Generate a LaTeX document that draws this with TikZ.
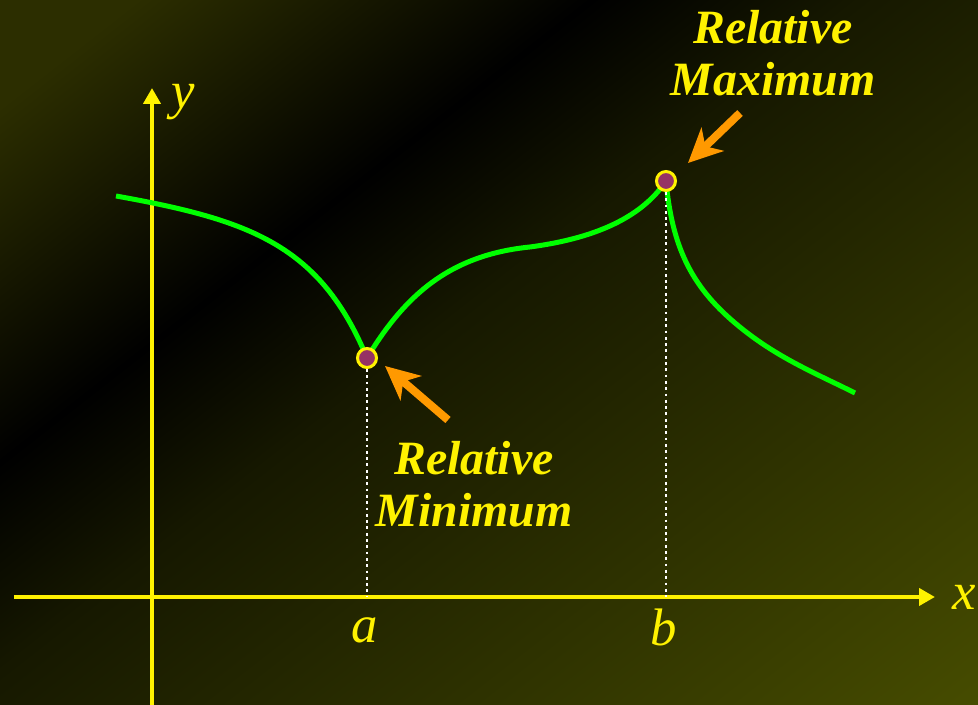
\documentclass[tikz,border=0pt]{standalone}
\usepackage{fontspec}
\setmainfont{Liberation Serif}
\usetikzlibrary{positioning,arrows.meta}

\definecolor{bgtl}{RGB}{44,46,0}
\definecolor{bgmid}{RGB}{22,24,0}
\definecolor{bgbr}{RGB}{70,76,0}
\definecolor{ptfill}{RGB}{150,50,100}
\definecolor{arrorange}{RGB}{255,153,0}
\pgfdeclarehorizontalshading{bgshade}{100bp}{color(0bp)=(bgtl); color(20bp)=(bgtl); color(37bp)=(black); color(47bp)=(bgmid); color(85bp)=(bgbr); color(100bp)=(bgbr)}

\begin{document}
\begin{tikzpicture}[
  axis/.style={draw=yellow, line width=0.045cm, -{Triangle[length=0.16cm,width=0.17cm]}},
  curve/.style={draw=green, line width=0.05cm},
  extpt/.style={circle, fill=ptfill, draw=yellow, line width=0.03cm, inner sep=0pt, minimum size=0.19cm},
  drop/.style={draw=white, line width=0.028cm, dash pattern=on 0.028cm off 0.035cm},
  pointer/.style={draw=arrorange, line width=0.08cm, -{Stealth[length=0.34cm,width=0.32cm,inset=0.1cm]}},
  axlabel/.style={text=yellow, font=\fontsize{15}{16}\selectfont\itshape, inner sep=0pt},
  bigtext/.style={text=yellow, font=\fontsize{13.6}{14.8}\selectfont\bfseries\itshape, align=center, inner sep=0pt}
]

%%% 背景
\useasboundingbox (0,0) rectangle (9.78,7.05);
\shade[shading=bgshade, shading angle=-52] (0,0) rectangle (9.78,7.05);

%%% 軸
\coordinate (xstart) at (0.14,1.08);
\coordinate (xend) at (9.35,1.08);
\coordinate (ystart) at (1.52,0);
\coordinate (yend) at (1.52,6.17);
\draw[axis] (xstart) -- (xend);
\draw[axis] (ystart) -- (yend);

\node[axlabel, right=0.17cm of xend] (xlab) {x};
\node[axlabel] (ylab) at (1.83,6.03) {y};

%% 極値
\coordinate (minc) at (3.67,3.47);
\coordinate (maxc) at (6.66,5.24);
\coordinate (mina) at (3.67,1.08);
\coordinate (maxb) at (6.66,1.08);

%% 曲線
\draw[curve] (1.16,5.09) .. controls (2.5,4.85) and (3.2,4.6) .. (minc);
\draw[curve] (minc) .. controls (4.05,4.1) and (4.5,4.5) .. (5.3,4.58)
  .. controls (5.9,4.66) and (6.4,4.85) .. (maxc);
\draw[curve] (maxc) .. controls (6.72,4.6) and (6.9,4.2) .. (7.35,3.82)
  .. controls (7.75,3.48) and (8.15,3.32) .. (8.55,3.12);

\node[extpt] (minpt) at (minc) {};
\node[extpt] (maxpt) at (maxc) {};

\draw[drop] (minpt.south) -- (mina);
\draw[drop] (maxpt.south) -- (maxb);

\node[axlabel] (alab) at (3.65,0.75) {a};
\node[axlabel] (blab) at (6.64,0.78) {b};

%% 説明
\node[bigtext] (mintext) at (4.74,2.21) {Relative\\Minimum};
\node[bigtext] (maxtext) at (7.73,6.52) {Relative\\Maximum};

\coordinate (mintail) at (4.48,2.85);
\coordinate (mintip) at (3.85,3.39);
\coordinate (maxtail) at (7.40,5.92);
\coordinate (maxtip) at (6.88,5.42);
\draw[pointer] (mintail) -- (mintip);
\draw[pointer] (maxtail) -- (maxtip);

\end{tikzpicture}
\end{document}
